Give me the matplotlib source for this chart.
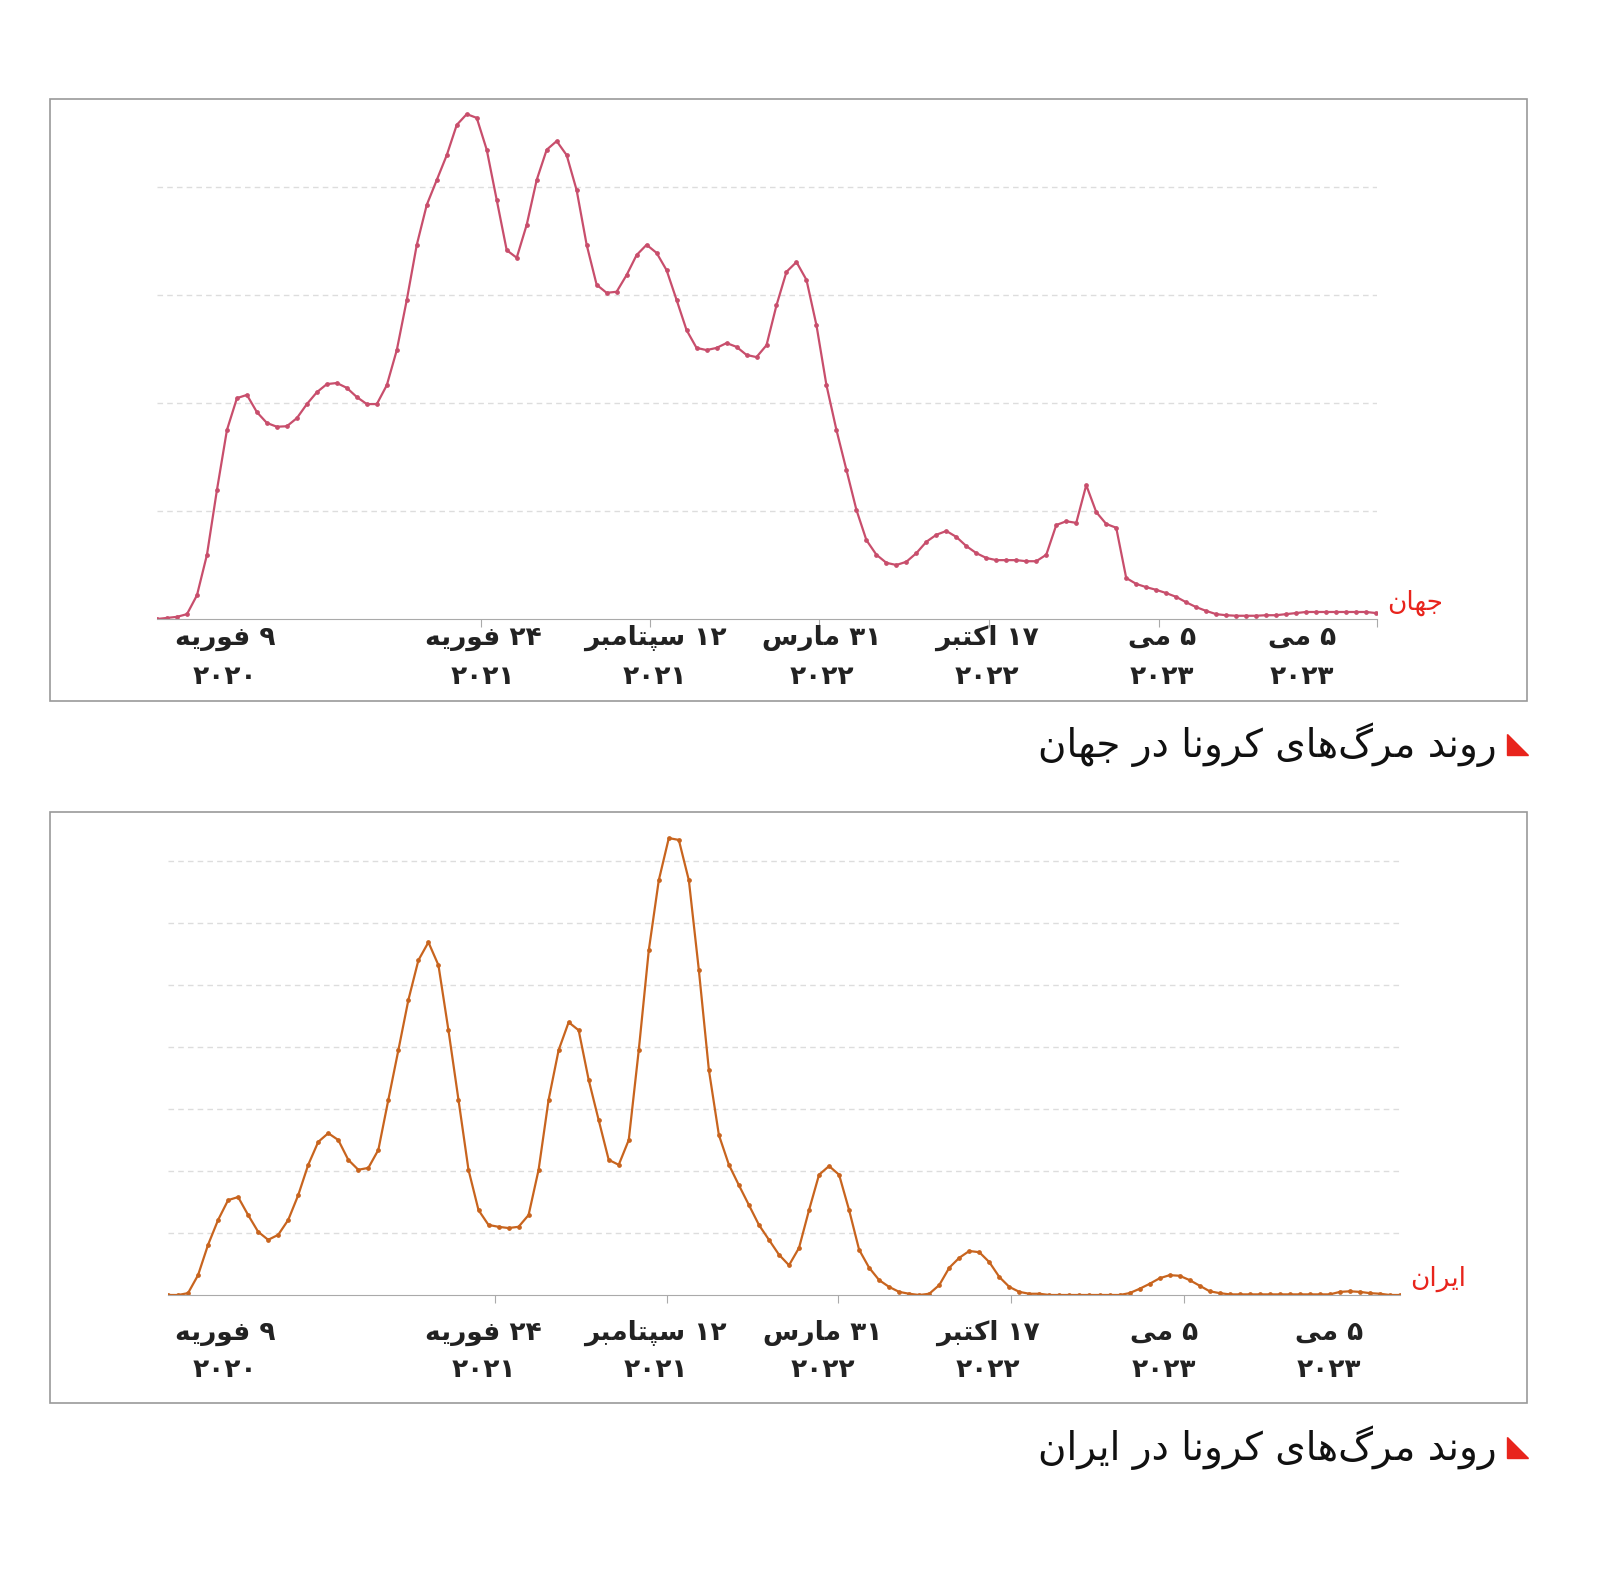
import matplotlib
matplotlib.use("Agg")
import matplotlib.pyplot as plt
from matplotlib.patches import Rectangle, Polygon
import numpy as np

# ---- data ----
world_k = [0,0.2,0.4,0.9,4.4,11.9,23.9,35,40.9,41.5,38.3,36.3,35.6,35.7,37.2,39.8,42,43.5,43.7,42.8,41.1,39.8,39.8,43.3,49.8,59.1,69.3,76.7,81.3,85.9,91.5,93.5,92.8,86.9,77.6,68.3,66.9,73,81.3,86.9,88.5,85.9,79.4,69.3,61.9,60.4,60.6,63.7,67.4,69.3,67.8,64.6,59.1,53.5,50.2,49.8,50.2,51.1,50.4,48.9,48.5,50.7,58.1,64.3,66.1,62.8,54.4,43.3,35,27.6,20.2,14.6,11.9,10.4,10,10.6,12.2,14.3,15.6,16.3,15.2,13.5,12.2,11.3,10.9,10.9,10.9,10.7,10.7,11.9,17.4,18.1,17.8,24.8,19.8,17.6,16.9,7.6,6.5,5.9,5.4,4.8,4.1,3.1,2.2,1.5,0.9,0.7,0.6,0.6,0.6,0.7,0.7,0.9,1.1,1.3,1.3,1.3,1.3,1.3,1.3,1.3,1.1]
iran = [0,0,3,32,81,121,153,158,129,102,89,97,121,161,210,247,261,250,218,202,205,234,315,395,476,540,569,532,427,315,202,137,113,110,108,110,129,202,315,395,440,427,347,282,218,210,250,395,556,669,737,734,669,524,363,258,210,177,145,113,89,65,48,76,137,194,208,194,137,73,44,24,13,5,2,0,2,16,44,60,71,69,53,29,13,5,2,2,0,0,0,0,0,0,0,0,3,10,18,27,32,31,24,15,6,3,1,1,1,1,1,1,1,1,1,1,1,5,6,5,3,2,0,0]
tick_labels = [("۹ فوریه","۲۰۲۰"),("۲۴ فوریه","۲۰۲۱"),("۱۲ سپتامبر","۲۰۲۱"),("۳۱ مارس","۲۰۲۲"),
               ("۱۷ اکتبر","۲۰۲۲"),("۵ می","۲۰۲۳"),("۵ می","۲۰۲۳")]
top_label_pos = [6.8,32.6,49.8,66.5,83,100.5,114.5]
top_tick_pos = [32.4,49.3,66.3,83.3,100.3,122.1]
bot_label_pos = [5.7,31.5,48.7,65.4,81.9,99.4,115.9]
bot_tick_pos = [32.6,49.8,66.9,84.2,101.4]

# ---- minimal Persian shaper ----
F = {'ا':(0xFE8D,0xFE8E,None,None),'ب':(0xFE8F,0xFE90,0xFE91,0xFE92),'ت':(0xFE95,0xFE96,0xFE97,0xFE98),
     'ج':(0xFE9D,0xFE9E,0xFE9F,0xFEA0),'د':(0xFEA9,0xFEAA,None,None),'ر':(0xFEAD,0xFEAE,None,None),
     'س':(0xFEB1,0xFEB2,0xFEB3,0xFEB4),'ف':(0xFED1,0xFED2,0xFED3,0xFED4),'م':(0xFEE1,0xFEE2,0xFEE3,0xFEE4),
     'ن':(0xFEE5,0xFEE6,0xFEE7,0xFEE8),'ه':(0xFEE9,0xFEEA,0xFEEB,0xFEEC),'و':(0xFEED,0xFEEE,None,None),
     'ی':(0xFBFC,0xFBFD,0xFBFE,0xFBFF),'ک':(0xFB8E,0xFB8F,0xFB90,0xFB91),'گ':(0xFB92,0xFB93,0xFB94,0xFB95),
     'پ':(0xFB56,0xFB57,0xFB58,0xFB59)}
def fa(s):
    out = []
    for i, c in enumerate(s):
        if c not in F:
            out.append(c if c != '\u200c' else ''); continue
        p = s[i-1] if i > 0 else ''
        n = s[i+1] if i+1 < len(s) else ''
        jp = p in F and F[p][2] is not None
        jn = n in F and F[c][2] is not None
        iso, fin, ini, med = F[c]
        code = med if (jp and jn) else fin if jp else ini if jn else iso
        out.append(chr(code))
    r = ''.join(out)[::-1]
    res, buf = [], ''
    for ch in r:
        if '\u06f0' <= ch <= '\u06f9':
            buf += ch
        else:
            if buf: res.append(buf[::-1]); buf = ''
            res.append(ch)
    if buf: res.append(buf[::-1])
    return ''.join(res)

W, H = 1600, 1573
fig = plt.figure(figsize=(16, 15.73), dpi=100)
plt.rcParams['font.family'] = 'DejaVu Sans'

def px(x, y):
    return x / W, 1 - y / H

def panel(vals, left, right, base, top, box, ymax, grids, color, tickpos, labpos, laby, name, title, titley):
    ax = fig.add_axes([left/W, 1-base/H, (right-left)/W, (base-top)/H])
    x = np.arange(len(vals))
    ax.plot(x, vals, color=color, lw=1.6, marker='o', ms=2.4)
    ax.set_xlim(0, len(vals)-1)
    ax.set_ylim(0, ymax)
    for g in grids:
        ax.axhline(g, color='#dddddd', lw=1, ls=(0, (4, 3)), zorder=0)
    for s in ['top', 'right', 'left']:
        ax.spines[s].set_visible(False)
    ax.spines['bottom'].set_color('#aaaaaa')
    ax.set_yticks([])
    ax.set_xticks(tickpos)
    ax.tick_params(axis='x', length=6, color='#aaaaaa', labelbottom=False)
    for (l1, l2), p in zip(tick_labels, labpos):
        xf = left + p * (right-left) / (len(vals)-1)
        fig.text(*px(xf, laby[0]), fa(l1), ha='center', va='center', fontsize=19, fontweight='bold', color='#222222')
        fig.text(*px(xf, laby[1]), fa(l2), ha='center', va='center', fontsize=19, fontweight='bold', color='#222222')
    fig.text(*px(right+10, base-16), fa(name), ha='left', va='center', fontsize=19, color='#e8241c')
    fig.patches.append(Rectangle(px(box[0], box[3]), (box[2]-box[0])/W, (box[3]-box[1])/H,
                                 transform=fig.transFigure, fill=False, ec='#999999', lw=1.2))
    fig.text(*px(1497, titley), fa(title), ha='right', va='center', fontsize=28, color='#111111')
    fig.patches.append(Polygon([px(1507, titley-11), px(1507, titley+10), px(1528, titley+10)],
                               closed=True, transform=fig.transFigure, color='#e8241c'))

panel(world_k, 157, 1377, 619, 99, (50, 99, 1527, 701), (619-99)/5.4, [20, 40, 60, 80],
      '#c84e6c', top_tick_pos, top_label_pos, (638, 677), 'جهان', 'روند مرگ\u200cهای کرونا در جهان', 745)
panel(iran, 168, 1400, 1295, 812, (50, 812, 1527, 1403), (1295-812)*1.613, [100, 200, 300, 400, 500, 600, 700],
      '#c8641e', bot_tick_pos, bot_label_pos, (1333, 1370), 'ایران', 'روند مرگ\u200cهای کرونا در ایران', 1448)

fig.savefig('out.png', dpi=100, facecolor='white')
